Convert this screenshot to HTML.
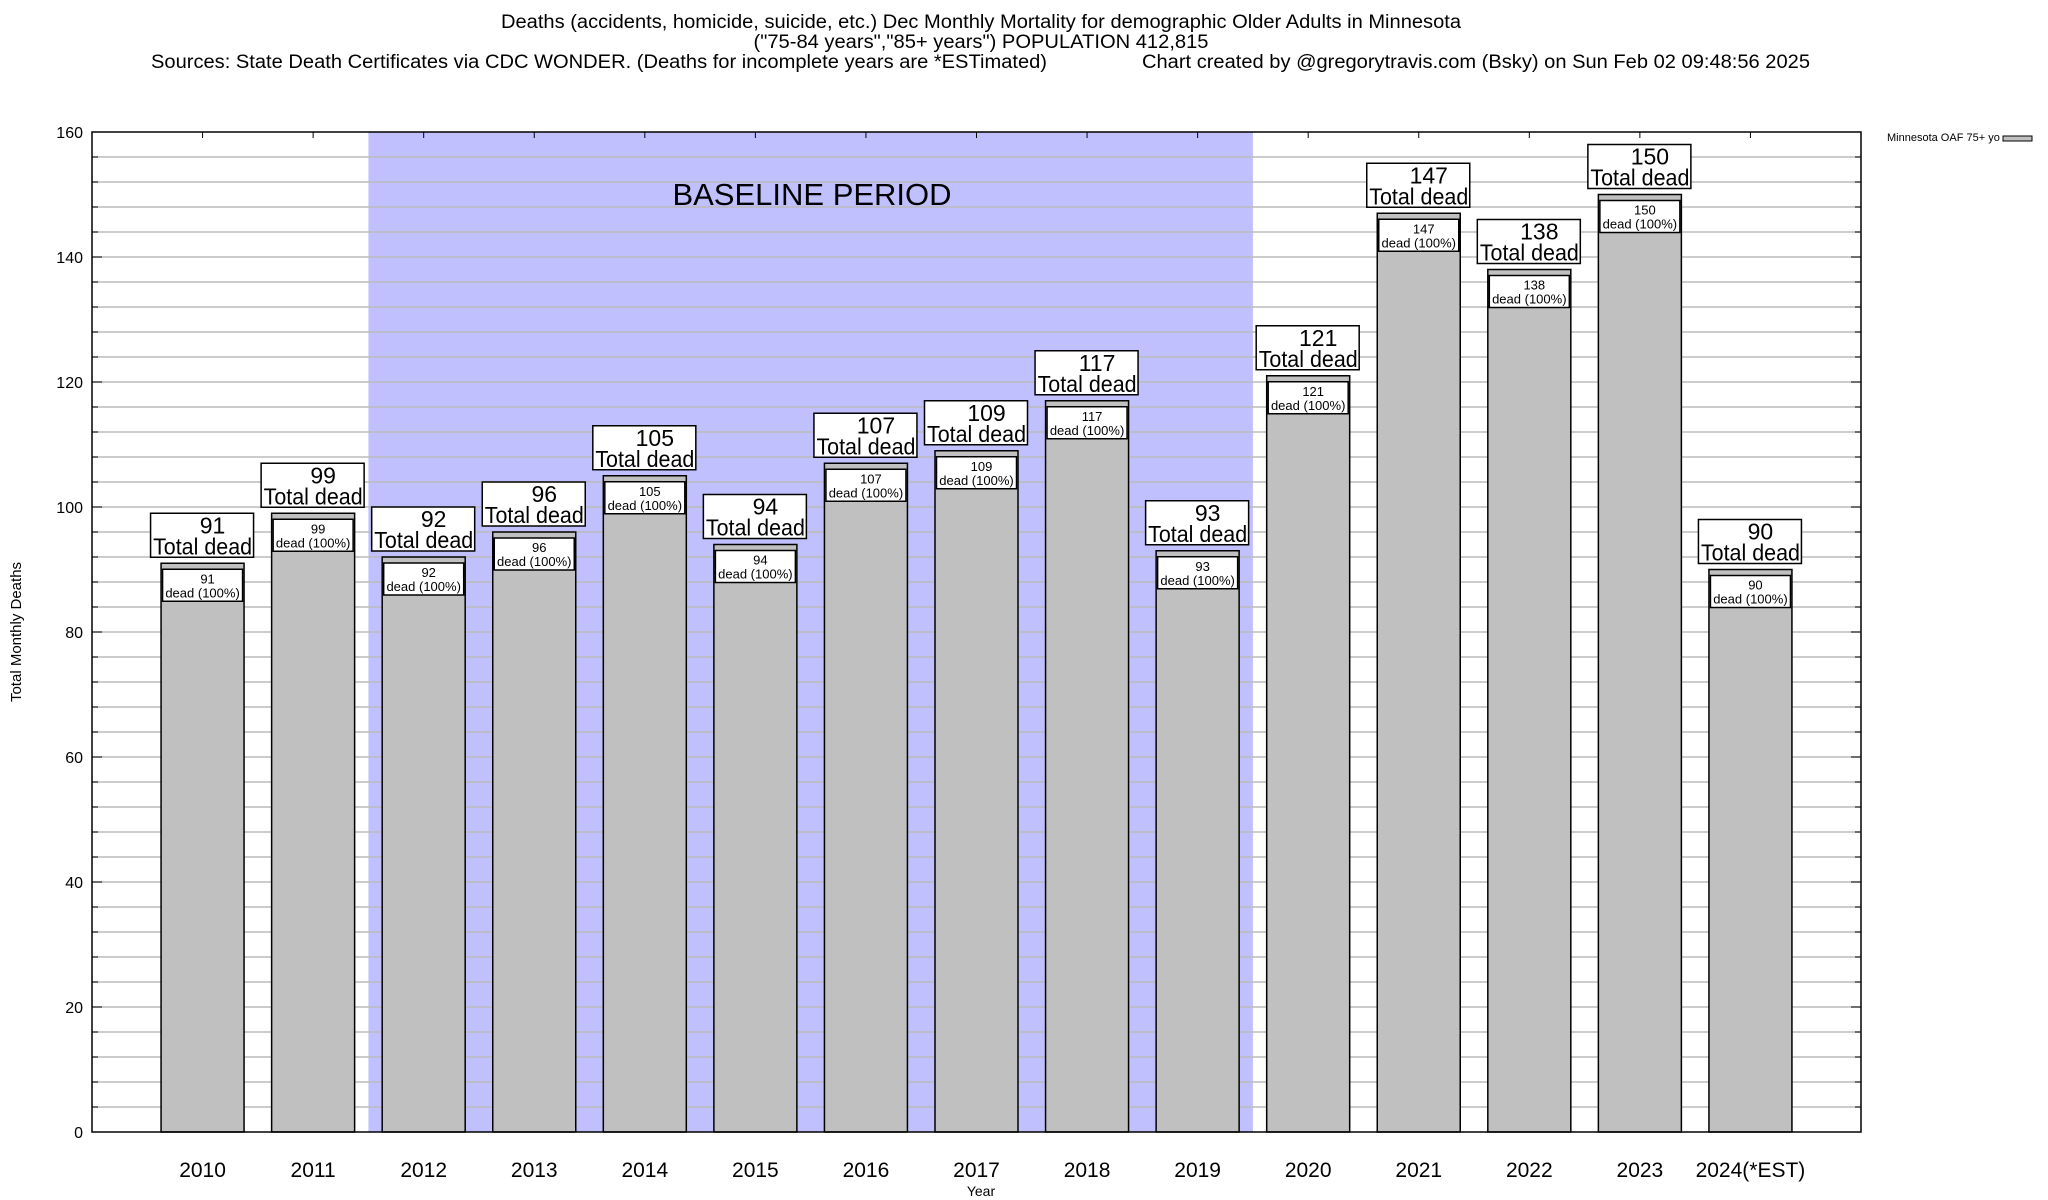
<!DOCTYPE html>
<html><head><meta charset="utf-8"><style>
html,body{margin:0;padding:0;background:#fff;}
svg{display:block;font-family:"Liberation Sans",Arial,sans-serif;}
</style></head><body>
<svg id="chart" width="2048" height="1200" viewBox="0 0 2048 1200" xmlns="http://www.w3.org/2000/svg">
<g font-size="19" fill="#000">
<text x="981" y="28" text-anchor="middle" textLength="960" lengthAdjust="spacingAndGlyphs">Deaths (accidents, homicide, suicide, etc.) Dec Monthly Mortality for demographic Older Adults in Minnesota</text>
<text x="981" y="48" text-anchor="middle" textLength="455" lengthAdjust="spacingAndGlyphs">("75-84 years","85+ years") POPULATION 412,815</text>
<text x="151" y="68" textLength="896" lengthAdjust="spacingAndGlyphs">Sources: State Death Certificates via CDC WONDER. (Deaths for incomplete years are *ESTimated)</text>
<text x="1142" y="68" textLength="668" lengthAdjust="spacingAndGlyphs">Chart created by @gregorytravis.com (Bsky) on Sun Feb 02 09:48:56 2025</text>
</g>
<g id="plot"></g>
</svg>
<script>
const years = ["2010","2011","2012","2013","2014","2015","2016","2017","2018","2019","2020","2021","2022","2023","2024(*EST)"];
const deaths = [91,99,92,96,105,94,107,109,117,93,121,147,138,150,90];
const yTicks = [0,20,40,60,80,100,120,140,160];
const baselineStart = 1.5, baselineEnd = 9.5;

const L=92, R=1861, T=132, B=1132, yMax=160;
const slot=(R-L)/16;
const xs = i => L + (i+1)*slot;
const ys = v => B - v*(B-T)/yMax;
const NS="http://www.w3.org/2000/svg";
const plot=document.getElementById('plot');
function mk(tag, attrs, parent, txt){
  const e=document.createElementNS(NS,tag);
  for(const k in attrs) e.setAttribute(k,attrs[k]);
  if(txt!==undefined) e.textContent=txt;
  (parent||plot).appendChild(e); return e;
}
const sh=mk('rect',{x:xs(baselineStart),y:T,width:xs(baselineEnd)-xs(baselineStart),height:B-T,fill:'#c0c0ff'});


for(let v=4; v<yMax; v+=4){
  const g=mk('line',{x1:L,x2:R,y1:ys(v),y2:ys(v),stroke:'#bbb','stroke-width':1.5});
  
  
  mk('line',{x1:L,x2:L+6,y1:ys(v),y2:ys(v),stroke:'#000','stroke-width':1});
  mk('line',{x1:R-6,x2:R,y1:ys(v),y2:ys(v),stroke:'#000','stroke-width':1});
}
const bl=mk('text',{x:812,y:205,'font-size':31,'text-anchor':'middle'},plot,'BASELINE PERIOD');


yTicks.forEach(v=>{
  const t=mk('text',{x:83,y:ys(v)+6,'font-size':16,'text-anchor':'end'},plot,String(v));
  
  
  mk('line',{x1:L,x2:L+10,y1:ys(v),y2:ys(v),stroke:'#000'});
  mk('line',{x1:R-10,x2:R,y1:ys(v),y2:ys(v),stroke:'#000'});
});
deaths.forEach((v,i)=>{
  const cx=xs(i), bw=83, top=ys(v);
  const g=mk('g',{});
  
  
  mk('rect',{x:cx-bw/2,y:top,width:bw,height:B-top,fill:'#c0c0c0',stroke:'#000','stroke-width':1.5},g);
  mk('rect',{x:cx-bw/2+1.5,y:top+6,width:bw-3,height:32,fill:'#fff',stroke:'#000','stroke-width':1.5},g);
  mk('text',{x:cx+5,y:top+20,'font-size':13,'text-anchor':'middle'},g,String(v));
  mk('text',{x:cx,y:top+34,'font-size':13,'text-anchor':'middle'},g,'dead (100%)');
  const lb=mk('g',{});
  
  
  mk('rect',{x:cx-52,y:top-50,width:103,height:44,fill:'#fff',stroke:'#000','stroke-width':1.5},lb);
  mk('text',{x:cx+10,y:top-30,'font-size':23,'text-anchor':'middle'},lb,String(v));
  mk('text',{x:cx,y:top-9,'font-size':23,'text-anchor':'middle',textLength:99,lengthAdjust:'spacingAndGlyphs'},lb,'Total dead');
  const xt=mk('text',{x:cx,y:1177,'font-size':21,'text-anchor':'middle'},plot,years[i]);
  
  
  mk('line',{x1:cx,x2:cx,y1:T,y2:T+6,stroke:'#000'});
});
const fr=mk('rect',{x:L,y:T,width:R-L,height:B-T,fill:'none',stroke:'#000','stroke-width':1.5});


const xa=mk('text',{x:981,y:1196,'font-size':14,'text-anchor':'middle'},plot,'Year');


const ya=mk('text',{x:21,y:632,'font-size':15,'text-anchor':'middle',transform:'rotate(-90 21 632)'},plot,'Total Monthly Deaths');


const lg=mk('g',{});


mk('text',{x:1887,y:141,'font-size':11},lg,'Minnesota OAF 75+ yo');
mk('rect',{x:2003,y:136,width:29,height:5,fill:'#c0c0c0',stroke:'#000'},lg);
</script>
</body></html>
